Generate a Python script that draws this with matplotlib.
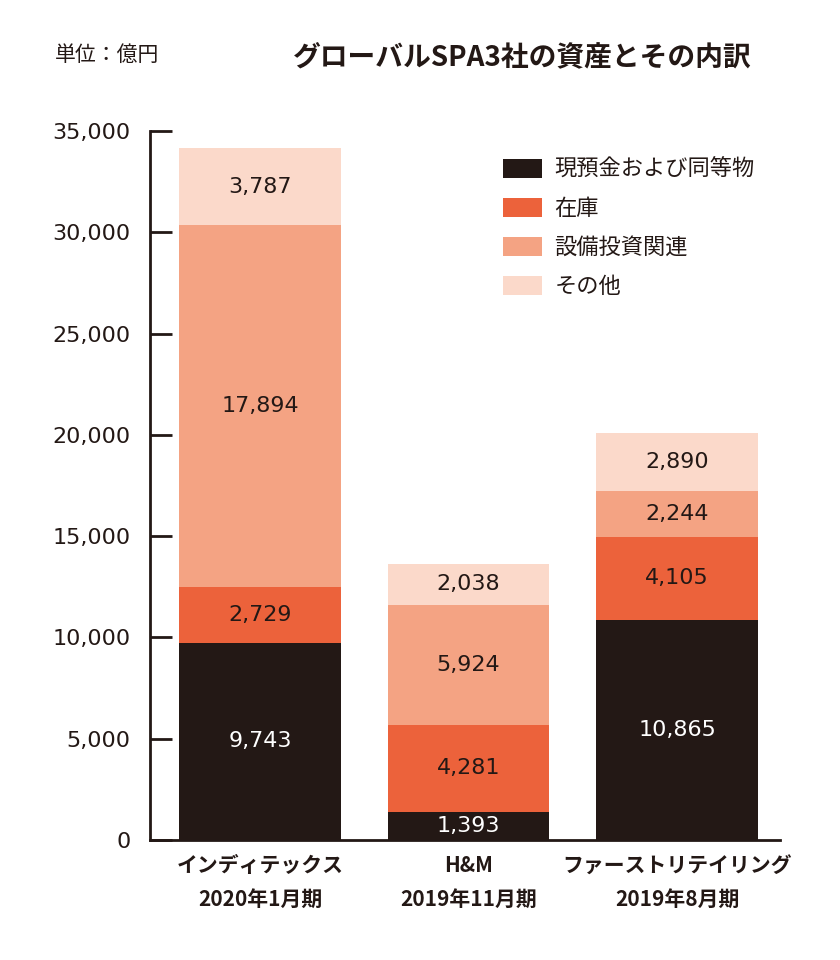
import numpy as np
from matplotlib import pyplot as plt

plt.rcParams['font.family'] = ['DejaVu Sans', 'Noto Sans CJK JP']
jp = ['Noto Sans CJK JP', 'DejaVu Sans']
num = 'DejaVu Sans'

companies = ['インディテックス\n2020年1月期', 'H&M\n2019年11月期', 'ファーストリテイリング\n2019年8月期']
series_names = ['現預金および同等物', '在庫', '設備投資関連', 'その他']
cash = [9743, 1393, 10865]
stock = [2729, 4281, 4105]
capex = [17894, 5924, 2244]
other = [3787, 2038, 2890]
yticks = [0, 5000, 10000, 15000, 20000, 25000, 30000, 35000]

colors = ['#231815', '#ec623b', '#f4a383', '#fbd9ca']
txt_colors = ['white', '#231815', '#231815', '#231815']
ink = '#231815'

fig = plt.figure(figsize=(8.4, 9.6), dpi=100)
ax = fig.add_axes([150 / 840, 1 - 840 / 960, 630 / 840, (840 - 131) / 960])

x = np.arange(len(companies))
bottom = np.zeros(len(companies))
for vals, name, c, tc in zip([cash, stock, capex, other], series_names, colors, txt_colors):
    vals = np.array(vals)
    ax.bar(x, vals, 0.775, bottom=bottom, color=c, label=name)
    for xi, b, v in zip(x, bottom, vals):
        ax.text(xi, b + v / 2, f'{v:,}', ha='center', va='center',
                fontsize=16, color=tc, fontfamily=num)
    bottom += vals

ax.set_xlim(-0.528, 2.494)
ax.set_ylim(0, 35000)
ax.set_yticks(yticks)
ax.set_yticklabels([f'{t:,}' for t in yticks], fontsize=16, color=ink, fontfamily=num)
ax.tick_params(axis='y', direction='in', length=16, width=2, pad=14, color=ink)
ax.set_xticks(x)
ax.set_xticklabels(companies, fontfamily=jp, fontweight='bold', fontsize=15,
                   color=ink, linespacing=1.75)
ax.tick_params(axis='x', length=0, pad=11)
for s in ['top', 'right']:
    ax.spines[s].set_visible(False)
for s in ['left', 'bottom']:
    ax.spines[s].set_linewidth(2)
    ax.spines[s].set_color(ink)

leg = ax.legend(loc='upper left', bbox_to_anchor=(0.529, 0.99), frameon=False,
                prop={'family': jp, 'size': 16}, handlelength=1.75, handleheight=0.95,
                labelspacing=0.72, handletextpad=0.55)
for t in leg.get_texts():
    t.set_color(ink)

fig.text(55 / 840, 1 - 55 / 960, '単位：億円', fontfamily=jp, fontsize=15,
         color=ink, va='center', ha='left')
fig.text(752 / 840, 1 - 57 / 960, 'グローバルSPA3社の資産とその内訳', fontfamily=jp,
         fontsize=20, fontweight='bold', color=ink, va='center', ha='right')

fig.savefig('out.png', dpi=100)
